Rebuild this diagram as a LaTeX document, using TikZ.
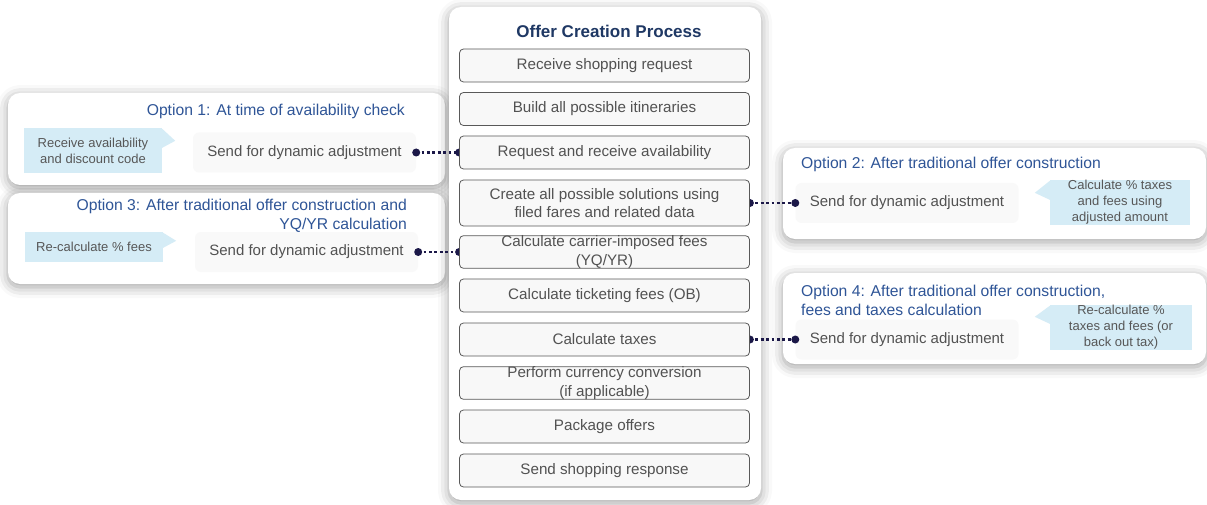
\documentclass[tikz,border=0pt]{standalone}
\usepackage{fontspec}
\setmainfont{Liberation Sans}
\usetikzlibrary{arrows.meta,calc,shadows.blur}
\definecolor{navy}{HTML}{1F3864}
\definecolor{optblue}{HTML}{2F5597}
\definecolor{calloutblue}{HTML}{D5ECF6}
\definecolor{stepgray}{HTML}{F8F8F8}
\definecolor{linkdot}{HTML}{1B1848}
\definecolor{textgray}{HTML}{525252}
\pgfdeclarelayer{panels}
\pgfdeclarelayer{links}
\pgfsetlayers{panels,links,main}
\tikzset{
  panel/.style={fill=white, rounded corners=12pt, blur shadow={shadow xshift=0pt, shadow yshift=-3pt, shadow blur radius=11pt, shadow opacity=38}},
  stepbox/.style={draw=black!65, fill=stepgray, rounded corners=4pt, line width=0.8pt, minimum width=290pt, minimum height=33pt, inner sep=0pt, align=center, text=textgray, font=\fontsize{15.2}{18.5}\selectfont},
  sendbox/.style={fill=black!2.5, rounded corners=6pt, minimum width=223pt, minimum height=40pt, inner sep=0pt, text=textgray, font=\fontsize{15}{18}\selectfont},
  callout/.style={fill=calloutblue, inner sep=0pt, align=center, text=black!66, font=\fontsize{13}{16}\selectfont},
  opttitle/.style={text=optblue, inner sep=0pt, font=\fontsize{15.7}{19}\selectfont},
  link/.style={linkdot, line width=2.6pt, dash pattern=on 2.8pt off 2.6pt},
  linkend/.style={fill=linkdot}
}

\begin{document}
\begin{tikzpicture}[x=1pt, y=-1pt]
  \useasboundingbox (0,0) rectangle (1207,505);

  % option panels and the process panel, below everything else
  \begin{pgfonlayer}{panels}
    \path[panel] (8,93) rectangle (445,185);
    \path[panel] (8,193) rectangle (445,284);
    \path[panel] (783,148) rectangle (1206,239);
    \path[panel] (783,273) rectangle (1206,364);
    \node[sendbox] (snd1) at (304.5,152.5) {Send for dynamic adjustment};
    \node[sendbox] (snd3) at (306.5,252) {Send for dynamic adjustment};
    \node[sendbox] (snd2) at (907,203) {Send for dynamic adjustment};
    \node[sendbox] (snd4) at (907,339.5) {Send for dynamic adjustment};
    \path[panel] (449,7) rectangle (761,500);
  \end{pgfonlayer}

  % process steps
  \node[font=\bfseries\fontsize{17}{20}\selectfont, text=navy] (title) at (609,31) {Offer Creation Process};
  \node[stepbox] (s1) at (604.5,65.5) {Receive shopping request};
  \node[stepbox] (s2) at (604.5,109) {Build all possible itineraries};
  \node[stepbox] (s3) at (604.5,152.5) {Request and receive availability};
  \node[stepbox, minimum height=46pt] (s4) at (604.5,203) {Create all possible solutions using\\filed fares and related data};
  \node[stepbox, minimum height=32pt] (s5) at (604.5,252) {Calculate carrier-imposed fees\\(YQ/YR)};
  \node[stepbox] (s6) at (604.5,295.5) {Calculate ticketing fees (OB)};
  \node[stepbox] (s7) at (604.5,339.5) {Calculate taxes};
  \node[stepbox, minimum height=32pt] (s8) at (604.5,383) {Perform currency conversion\\(if applicable)};
  \node[stepbox] (s9) at (604.5,426.5) {Package offers};
  \node[stepbox] (s10) at (604.5,470.5) {Send shopping response};

  % option titles
  \node[opttitle, anchor=east] (t1) at (405,111) {Option 1: At time of availability check};
  \node[opttitle, anchor=east, align=right] (t3) at (407,215.5) {Option 3: After traditional offer construction and\\YQ/YR calculation};
  \node[opttitle, anchor=west] (t2) at (801,164) {Option 2: After traditional offer construction};
  \node[opttitle, anchor=west, align=left] (t4) at (801,300) {Option 4: After traditional offer construction,\\fees and taxes calculation};

  % callouts
  \node[callout, minimum width=138pt, minimum height=45pt] (c1) at (93,150.5) {Receive availability\\and discount code};
  \node[callout, minimum width=138pt, minimum height=30pt] (c3) at (94,247) {Re-calculate \% fees};
  \node[callout, minimum width=140pt, minimum height=45pt] (c2) at (1120,202.5) {Calculate \% taxes\\and fees using\\adjusted amount};
  \node[callout, minimum width=142pt, minimum height=45pt] (c4) at (1121,327.5) {Re-calculate \%\\taxes and fees (or\\back out tax)};
  \fill[calloutblue] ($(c1.north east)+(0,1)$) -- ($(c1.north east)+(13,13)$) -- ($(c1.north east)+(0,20)$) -- cycle;
  \fill[calloutblue] ($(c3.north east)+(0,1)$) -- ($(c3.north east)+(13,9)$) -- ($(c3.north east)+(0,16)$) -- cycle;
  \fill[calloutblue] ($(c2.north west)+(0,1)$) -- ($(c2.north west)+(-15,13)$) -- ($(c2.north west)+(0,20)$) -- cycle;
  \fill[calloutblue] ($(c4.north west)+(0,1)$) -- ($(c4.north west)+(-15,12)$) -- ($(c4.north west)+(0,19)$) -- cycle;

  % dotted links, under the step boxes
  \begin{pgfonlayer}{links}
    \draw[link] (snd1.east) -- (s3.west);
    \draw[link] (snd3.east) -- (s5.west);
    \draw[link] (s4.east) -- (snd2.west);
    \draw[link] (s7.east) -- (snd4.west);
    \fill[linkend] (snd1.east) circle (4pt);
    \fill[linkend] (snd3.east) circle (4pt);
    \fill[linkend] (snd2.west) circle (4pt);
    \fill[linkend] (snd4.west) circle (4pt);
    \fill[linkend] (s3.west) circle (4pt);
    \fill[linkend] (s5.west) circle (4pt);
    \fill[linkend] (s4.east) circle (4pt);
    \fill[linkend] (s7.east) circle (4pt);
  \end{pgfonlayer}
\end{tikzpicture}
\end{document}
